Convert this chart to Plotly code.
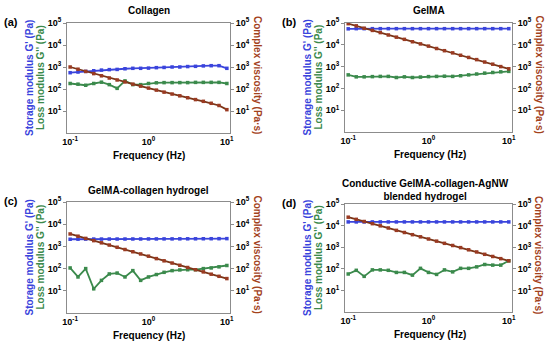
import plotly.graph_objects as go

freq = [0.1, 0.126, 0.158, 0.2, 0.251, 0.316, 0.398, 0.501, 0.631, 0.794, 1.0,
        1.26, 1.58, 2.0, 2.51, 3.16, 3.98, 5.01, 6.31, 7.94, 10.0]

titles = ["Collagen", "GelMA", "GelMA-collagen hydrogel",
          "Conductive GelMA-collagen-AgNW<br>blended hydrogel"]
panel_labels = ["(a)", "(b)", "(c)", "(d)"]

# (a) Collagen
a_storage = [550, 590, 630, 676, 724, 759, 776, 832, 871, 871, 891, 933, 955, 1000, 1000,
             1047, 1072, 1122, 1148, 1148, 871]
a_loss = [178, 166, 148, 178, 204, 158, 107, 234, 158, 158, 178, 191, 195, 195, 195,
          195, 200, 200, 200, 200, 178]
a_visc = [1000, 794, 631, 501, 398, 316, 257, 209, 166, 135, 110, 89, 72, 59, 49,
          40, 33, 27.5, 22.4, 17.8, 11.5]

# (b) GelMA
b_storage = [54000, 55000, 55000, 55000, 55000, 55000, 55000, 55000, 55000, 55000, 55000,
             55000, 55000, 55000, 55000, 55000, 55000, 55000, 55000, 55000, 55000]
b_loss = [417, 339, 339, 347, 355, 355, 316, 339, 316, 331, 347, 355, 363, 355, 380,
          417, 457, 501, 537, 575, 603]
b_visc = [93300, 74100, 57500, 45700, 36300, 28200, 22400, 17800, 13800, 11000, 8710,
          6760, 5370, 4270, 3310, 2630, 2090, 1620, 1290, 1000, 794]

# (c) GelMA-collagen hydrogel
c_storage = [2100, 2120, 2140, 2140, 2140, 2150, 2150, 2150, 2160, 2160, 2170, 2170,
             2180, 2180, 2190, 2200, 2200, 2210, 2220, 2230, 2240]
c_loss = [107, 42, 100, 12.3, 29.5, 57.5, 63, 42, 81, 29.5, 42, 54, 68, 81, 87,
          89, 89, 100, 107, 120, 138]
c_visc = [3630, 2880, 2290, 1820, 1450, 1150, 912, 724, 575, 457, 363, 282, 224, 178,
          141, 112, 89, 71, 56, 45, 35.5]

# (d) Conductive GelMA-collagen-AgNW blended hydrogel
d_storage = [14800, 14800, 14800, 14800, 14800, 14800, 14800, 14800, 14800, 14800, 14800,
             14800, 14800, 14800, 14800, 14800, 14800, 14800, 14800, 14800, 14800]
d_loss = [57.5, 85, 44.7, 89, 89, 85, 68, 68, 51, 105, 68, 55, 89, 72, 105, 105,
          123, 158, 148, 148, 234]
d_visc = [24500, 19500, 15500, 12300, 9770, 7760, 6030, 4790, 3800, 3020, 2400, 1910,
          1510, 1200, 955, 759, 603, 468, 372, 295, 234]

x_ticks = [0.1, 1, 10]
x_ticktext = ["<b>10<sup>-1</sup></b>", "<b>10<sup>0</sup></b>", "<b>10<sup>1</sup></b>"]
y_ticks = [10, 100, 1000, 10000, 100000]
y_ticktext = ["<b>10<sup>%d</sup></b>" % k for k in range(1, 6)]

storage_all = [a_storage, b_storage, c_storage, d_storage]
loss_all = [a_loss, b_loss, c_loss, d_loss]
visc_all = [a_visc, b_visc, c_visc, d_visc]

BLUE = "#3a44dc"
GREEN = "#3b8a4c"
BROWN = "#7a3416"
BROWN_T = "#a3421c"
FONT = "Liberation Sans, Arial, sans-serif"

W, H = 550, 348
# plot areas in pixels: (x0, x1, ytop, ybottom)
boxes = [(67, 230, 23, 133), (345, 512, 23, 132), (67, 230, 202, 313), (345, 512, 204, 312)]


def px(x):
    return x / W


def py(y):
    return 1 - y / H


fig = go.Figure()
layout = {}
annotations = []


def note(text, x, y, size=10, color="black", angle=0):
    annotations.append(dict(text=text, x=px(x), y=py(y), xref="paper", yref="paper",
                            xanchor="center", yanchor="middle", showarrow=False,
                            textangle=angle, font=dict(size=size, color=color, family=FONT)))


for i in range(4):
    x0, x1, yt, yb = boxes[i]
    xd = [px(x0), px(x1)]
    yd = [py(yb), py(yt)]
    xn = "x" if i == 0 else "x%d" % (i + 1)
    yl = "y" if i == 0 else "y%d" % (i + 1)
    yr = "y%d" % (i + 5)
    fig.add_trace(go.Scatter(x=freq, y=storage_all[i], xaxis=xn, yaxis=yl, mode="lines+markers",
                             line=dict(color=BLUE, width=1.8),
                             marker=dict(color=BLUE, size=3.5, symbol="square"), showlegend=False))
    fig.add_trace(go.Scatter(x=freq, y=loss_all[i], xaxis=xn, yaxis=yl, mode="lines+markers",
                             line=dict(color=GREEN, width=1.8),
                             marker=dict(color=GREEN, size=3.5, symbol="square"), showlegend=False))
    fig.add_trace(go.Scatter(x=freq, y=visc_all[i], xaxis=xn, yaxis=yr, mode="lines+markers",
                             line=dict(color=BROWN, width=1.8),
                             marker=dict(color="#9a3a22", size=3.5, symbol="square"), showlegend=False))
    xk = "xaxis" if i == 0 else "xaxis%d" % (i + 1)
    ylk = "yaxis" if i == 0 else "yaxis%d" % (i + 1)
    yrk = "yaxis%d" % (i + 5)
    layout[xk] = dict(domain=xd, anchor=yl, type="log", range=[-1.04, 1.04], automargin=False,
                      tickvals=x_ticks, ticktext=x_ticktext, showgrid=False, zeroline=False,
                      showline=True, mirror=True, linecolor="#8c8c8c", linewidth=1,
                      ticks="", tickfont=dict(size=9, color="black", family=FONT))
    layout[ylk] = dict(domain=yd, anchor=xn, type="log", range=[0, 5], automargin=False,
                       tickvals=y_ticks, ticktext=y_ticktext, showgrid=False, zeroline=False,
                       showline=True, linecolor="#8c8c8c", linewidth=1,
                       ticks="outside", ticklen=3, tickcolor="#8c8c8c",
                       tickfont=dict(size=9, color="black", family=FONT))
    layout[yrk] = dict(overlaying=yl, anchor=xn, side="right", type="log", range=[0, 5],
                       automargin=False,
                       tickvals=y_ticks, ticktext=y_ticktext, showgrid=False, zeroline=False,
                       showline=True, linecolor="#8c8c8c", linewidth=1,
                       ticks="outside", ticklen=3, tickcolor="#8c8c8c",
                       tickfont=dict(size=9, color="black", family=FONT))
    xc = (x0 + x1) / 2
    yc = (yt + yb) / 2
    note("<b>Frequency (Hz)</b>", xc + 1, yb + 22)
    if i < 2:
        note("<b>%s</b>" % titles[i], xc, 10)
    elif i == 2:
        note("<b>%s</b>" % titles[i], xc, 190)
    else:
        note("<b>%s</b>" % titles[i], xc - 3, 190)
    note("<b>%s</b>" % panel_labels[i], x0 - 56, yt - 1, size=11)
    note("<b>Storage modulus G' (Pa)</b>", x0 - 38, yc, color=BLUE, angle=-90)
    note("<b>Loss modulus G'' (Pa)</b>", x0 - 27, yc, color=GREEN, angle=-90)
    note("<b>Complex viscosity (Pa·s)</b>", x1 + 27, yc - 3, color=BROWN_T, angle=90)

fig.update_layout(width=W, height=H, margin=dict(l=0, r=0, t=0, b=0),
                  paper_bgcolor="white", plot_bgcolor="white",
                  font=dict(family=FONT), annotations=annotations, **layout)
fig.write_html("out.html", config={"displayModeBar": False},
               post_script="document.body.style.margin='0px';")
